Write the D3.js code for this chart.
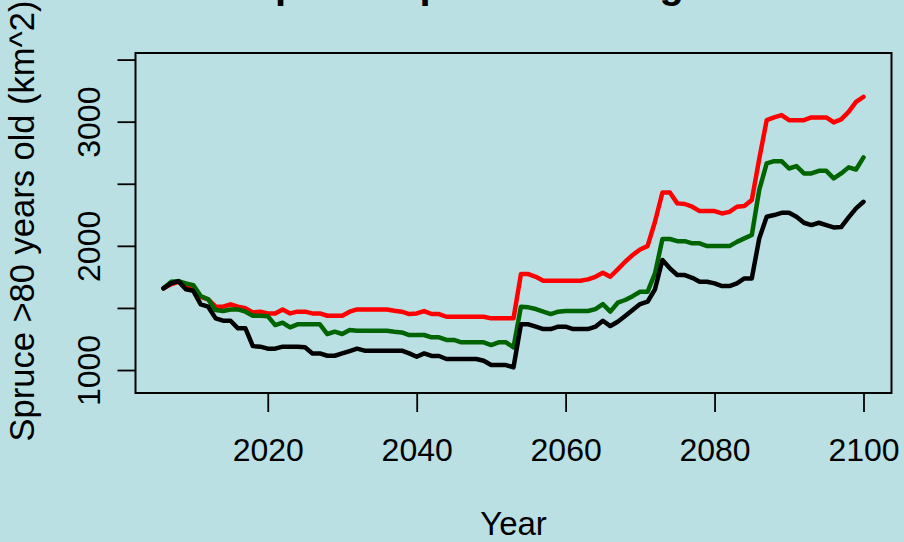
<!DOCTYPE html>
<html>
<head>
<meta charset="utf-8">
<script src="https://cdn.jsdelivr.net/npm/d3@7"></script>
<style>
  html, body { margin: 0; padding: 0; background: #bae0e3; }
  svg { display: block; font-family: "Liberation Sans", Arial, sans-serif; }
</style>
</head>
<body>
<svg id="chart" width="904" height="542"></svg>
<script>
// Years simulated
const years = [
  2006, 2007, 2008, 2009, 2010, 2011, 2012, 2013, 2014, 2015,
  2016, 2017, 2018, 2019, 2020, 2021, 2022, 2023, 2024, 2025,
  2026, 2027, 2028, 2029, 2030, 2031, 2032, 2033, 2034, 2035,
  2036, 2037, 2038, 2039, 2040, 2041, 2042, 2043, 2044, 2045,
  2046, 2047, 2048, 2049, 2050, 2051, 2052, 2053, 2054, 2055,
  2056, 2057, 2058, 2059, 2060, 2061, 2062, 2063, 2064, 2065,
  2066, 2067, 2068, 2069, 2070, 2071, 2072, 2073, 2074, 2075,
  2076, 2077, 2078, 2079, 2080, 2081, 2082, 2083, 2084, 2085,
  2086, 2087, 2088, 2089, 2090, 2091, 2092, 2093, 2094, 2095,
  2096, 2097, 2098, 2099, 2100
];

// Area of spruce older than 80 years (km^2), one value per year
const redSeries = [
  1658, 1690, 1710, 1684, 1658, 1590, 1569, 1510, 1510, 1529,
  1510, 1497, 1464, 1470, 1456, 1456, 1488, 1456, 1470, 1470,
  1456, 1456, 1437, 1437, 1437, 1470, 1488, 1488, 1488, 1488,
  1488, 1478, 1470, 1451, 1456, 1475, 1451, 1451, 1429, 1429,
  1429, 1429, 1429, 1429, 1416, 1416, 1416, 1416, 1773, 1773,
  1751, 1719, 1719, 1719, 1719, 1719, 1719, 1730, 1751, 1783,
  1751, 1811, 1872, 1926, 1971, 1998, 2194, 2430, 2430, 2342,
  2337, 2315, 2280, 2280, 2280, 2261, 2274, 2315, 2320, 2369,
  2700, 3012, 3034, 3053, 3012, 3012, 3012, 3034, 3034, 3034,
  2994, 3018, 3079, 3160, 3200
];

const greenSeries = [
  1658, 1710, 1716, 1698, 1684, 1596, 1569, 1483, 1475, 1488,
  1488, 1470, 1437, 1437, 1434, 1362, 1381, 1344, 1368, 1368,
  1368, 1368, 1290, 1309, 1290, 1322, 1317, 1317, 1317, 1317,
  1317, 1309, 1303, 1282, 1282, 1282, 1263, 1263, 1242, 1242,
  1223, 1223, 1223, 1223, 1201, 1223, 1223, 1183, 1510, 1505,
  1491, 1470, 1451, 1470, 1475, 1475, 1475, 1475, 1491, 1531,
  1470, 1542, 1564, 1595, 1630, 1630, 1778, 2055, 2055, 2038,
  2038, 2020, 2020, 1998, 1998, 1998, 1998, 2032, 2060, 2087,
  2450, 2664, 2682, 2682, 2623, 2642, 2583, 2583, 2604, 2604,
  2543, 2583, 2632, 2615, 2712
];

const blackSeries = [
  1658, 1698, 1716, 1650, 1638, 1529, 1510, 1416, 1397, 1397,
  1336, 1336, 1193, 1188, 1172, 1172, 1188, 1188, 1188, 1183,
  1134, 1134, 1115, 1115, 1134, 1153, 1172, 1156, 1156, 1156,
  1156, 1156, 1156, 1134, 1107, 1134, 1113, 1113, 1089, 1089,
  1089, 1089, 1089, 1075, 1040, 1040, 1040, 1021, 1368, 1368,
  1349, 1330, 1330, 1349, 1349, 1330, 1330, 1330, 1349, 1397,
  1354, 1389, 1435, 1483, 1531, 1550, 1650, 1886, 1819, 1765,
  1765, 1743, 1711, 1711, 1698, 1676, 1676, 1698, 1738, 1738,
  2060, 2234, 2248, 2266, 2266, 2234, 2186, 2167, 2186, 2167,
  2148, 2151, 2229, 2302, 2355
];

const xTicks = [2020, 2040, 2060, 2080, 2100];
const yTicks = [1000, 1500, 2000, 2500, 3000, 3500];
const yTickLabels = ["1000", "", "2000", "", "3000", ""];

const titleText = "Old spruce - partial cutting scheme";
const xLabel = "Year";
const yLabel = "Spruce >80 years old (km^2)";

const seriesList = [
  { values: redSeries, color: "#ff0000" },
  { values: greenSeries, color: "#006400" },
  { values: blackSeries, color: "#000000" }
];

const svg = d3.select("#chart");
const plot = { left: 135.5, right: 891.5, top: 53, bottom: 393 };

const x = d3.scaleLinear().domain([2002.24, 2103.76]).range([plot.left, plot.right]);
const y = d3.scaleLinear().domain([815, 3553]).range([plot.bottom, plot.top]);

svg.append("rect").attr("width", 904).attr("height", 542).attr("fill", "#bae0e3");

// Title (sits mostly above the visible area)
svg.append("text")
  .attr("x", (plot.left + plot.right) / 2 - 4)
  .attr("y", -2)
  .attr("text-anchor", "middle")
  .attr("font-size", 40)
  .attr("font-weight", "bold")
  .text(titleText);

// Series lines
const line = d3.line()
  .x((d, i) => x(years[i]))
  .y(d => y(d));

seriesList.forEach(s => {
  svg.append("path")
    .datum(s.values)
    .attr("d", line)
    .attr("fill", "none")
    .attr("stroke", s.color)
    .attr("stroke-width", 4.5)
    .attr("stroke-linejoin", "round")
    .attr("stroke-linecap", "round");
});

// Plot frame
svg.append("rect")
  .attr("x", plot.left).attr("y", plot.top)
  .attr("width", plot.right - plot.left).attr("height", plot.bottom - plot.top)
  .attr("fill", "none").attr("stroke", "#000").attr("stroke-width", 2);

// Bottom axis
const xAxis = d3.axisBottom(x).tickValues(xTicks).tickFormat(d3.format("d"))
  .tickSize(19).tickPadding(26);
const gx = svg.append("g").attr("transform", `translate(0,${plot.bottom})`).call(xAxis);
gx.select(".domain").remove();
gx.selectAll(".tick line").attr("stroke", "#000").attr("stroke-width", 1.8);
gx.selectAll(".tick text").attr("font-size", 32).attr("fill", "#000")
  .attr("font-family", "Liberation Sans, Arial, sans-serif");

// Left axis with rotated labels
const yAxis = d3.axisLeft(y).tickValues(yTicks)
  .tickFormat((d, i) => yTickLabels[i]).tickSize(18);
const gy = svg.append("g").attr("transform", `translate(${plot.left},0)`).call(yAxis);
gy.select(".domain").remove();
gy.selectAll(".tick line").attr("stroke", "#000").attr("stroke-width", 1.8);
gy.selectAll(".tick text")
  .attr("font-size", 32).attr("fill", "#000")
  .attr("font-family", "Liberation Sans, Arial, sans-serif")
  .attr("x", null).attr("dy", null)
  .attr("text-anchor", "middle")
  .attr("transform", `translate(${100 - plot.left},0) rotate(-90)`);

// Axis titles
svg.append("text")
  .attr("x", (plot.left + plot.right) / 2)
  .attr("y", 535)
  .attr("text-anchor", "middle")
  .attr("font-size", 33)
  .text(xLabel);

svg.append("text")
  .attr("transform", `translate(34,${(plot.top + plot.bottom) / 2 - 2}) rotate(-90)`)
  .attr("text-anchor", "middle")
  .attr("font-size", 34.5)
  .text(yLabel);
</script>
</body>
</html>
